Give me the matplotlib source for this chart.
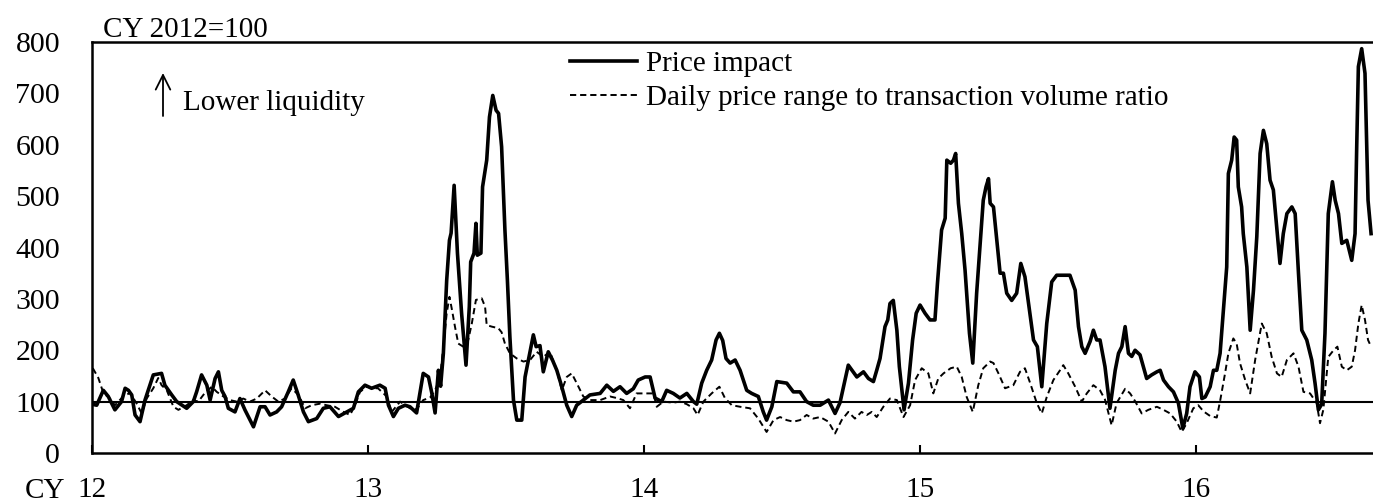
import matplotlib
matplotlib.use("Agg")
import matplotlib.pyplot as plt

plt.rcParams['font.family'] = ['Liberation Serif', 'DejaVu Serif']
plt.rcParams['font.size'] = 21

# ---- data (decimal calendar year, index CY2012=100) ----
impact_t = [
    12.000, 12.017, 12.041, 12.059, 12.083, 12.107, 12.120, 12.132, 12.144, 12.156,
    12.174, 12.192, 12.222, 12.252, 12.264, 12.289, 12.307, 12.343, 12.367, 12.379,
    12.397, 12.416, 12.428, 12.446, 12.458, 12.470, 12.482, 12.494, 12.518, 12.536,
    12.554, 12.585, 12.609, 12.627, 12.645, 12.669, 12.687, 12.711, 12.729, 12.747,
    12.766, 12.784, 12.814, 12.838, 12.862, 12.893, 12.923, 12.947, 12.965, 12.989,
    13.013, 13.043, 13.062, 13.074, 13.092, 13.110, 13.134, 13.152, 13.176, 13.188,
    13.200, 13.219, 13.231, 13.243, 13.255, 13.263, 13.273, 13.285, 13.295, 13.301,
    13.312, 13.324, 13.339, 13.355, 13.367, 13.372, 13.384, 13.391, 13.396, 13.409,
    13.415, 13.430, 13.440, 13.452, 13.464, 13.473, 13.484, 13.496, 13.505, 13.514,
    13.527, 13.539, 13.557, 13.569, 13.581, 13.599, 13.609, 13.623, 13.635, 13.653,
    13.669, 13.684, 13.702, 13.720, 13.738, 13.756, 13.780, 13.804, 13.841, 13.865,
    13.889, 13.913, 13.937, 13.961, 13.979, 14.004, 14.022, 14.040, 14.064, 14.082,
    14.106, 14.130, 14.155, 14.179, 14.191, 14.209, 14.227, 14.245, 14.261, 14.273,
    14.285, 14.297, 14.312, 14.330, 14.348, 14.372, 14.390, 14.414, 14.432, 14.444,
    14.463, 14.481, 14.517, 14.541, 14.565, 14.589, 14.613, 14.638, 14.668, 14.692,
    14.710, 14.728, 14.740, 14.771, 14.795, 14.813, 14.831, 14.843, 14.855, 14.873,
    14.883, 14.891, 14.903, 14.916, 14.925, 14.942, 14.958, 14.973, 14.986, 15.000,
    15.018, 15.036, 15.054, 15.063, 15.078, 15.091, 15.097, 15.111, 15.121, 15.129,
    15.139, 15.151, 15.163, 15.179, 15.191, 15.205, 15.217, 15.229, 15.239, 15.248,
    15.254, 15.266, 15.278, 15.290, 15.302, 15.314, 15.332, 15.350, 15.365, 15.380,
    15.393, 15.411, 15.425, 15.441, 15.459, 15.477, 15.495, 15.519, 15.543, 15.562,
    15.574, 15.586, 15.598, 15.616, 15.628, 15.640, 15.652, 15.670, 15.688, 15.707,
    15.719, 15.731, 15.743, 15.755, 15.767, 15.779, 15.797, 15.809, 15.821, 15.839,
    15.858, 15.870, 15.882, 15.900, 15.918, 15.936, 15.952, 15.966, 15.978, 15.996,
    16.012, 16.021, 16.033, 16.051, 16.063, 16.075, 16.087, 16.099, 16.111, 16.117,
    16.129, 16.138, 16.147, 16.153, 16.165, 16.171, 16.184, 16.196, 16.208, 16.220,
    16.232, 16.244, 16.256, 16.268, 16.280, 16.293, 16.304, 16.316, 16.329, 16.347,
    16.359, 16.371, 16.383, 16.401, 16.419, 16.431, 16.443, 16.455, 16.467, 16.479,
    16.494, 16.504, 16.516, 16.528, 16.546, 16.564, 16.576, 16.582, 16.588, 16.600,
    16.612, 16.623, 16.634,
]
impact_v = [
    95, 93, 122, 110, 84, 100, 126, 122, 113, 74,
    61, 103, 152, 155, 132, 113, 100, 87, 100, 119,
    152, 132, 103, 145, 158, 122, 110, 87, 80, 106,
    84, 51, 90, 90, 74, 80, 90, 119, 142, 113,
    80, 61, 67, 87, 90, 71, 80, 87, 119, 132,
    126, 132, 126, 93, 71, 87, 93, 90, 78, 117,
    155, 148, 117, 78, 161, 130, 194, 336, 414, 428,
    521, 389, 272, 171, 285, 372, 389, 447, 385, 389,
    518, 570, 654, 696, 667, 661, 596, 434, 336, 226,
    103, 64, 64, 148, 181, 230, 207, 209, 158, 197,
    180, 161, 129, 93, 71, 93, 103, 113, 116, 132,
    120, 129, 116, 125, 142, 148, 148, 107, 100, 122,
    116, 107, 116, 100, 95, 136, 161, 181, 220, 233,
    219, 184, 175, 181, 161, 122, 116, 110, 80, 64,
    90, 139, 136, 119, 119, 100, 93, 93, 103, 77,
    98, 142, 171, 148, 158, 145, 139, 161, 184, 246,
    259, 291, 297, 239, 168, 84, 136, 220, 272, 288,
    272, 259, 259, 330, 434, 457, 570, 564, 570, 583,
    486, 427, 356, 233, 175, 311, 401, 492, 518, 534,
    486, 479, 414, 350, 350, 311, 297, 311, 369, 343,
    291, 220, 207, 129, 252, 333, 346, 346, 346, 317,
    246, 207, 194, 217, 239, 220, 220, 168, 87, 161,
    194, 207, 246, 194, 188, 200, 191, 168, 145, 152,
    158, 161, 142, 129, 119, 97, 48, 77, 129, 158,
    148, 106, 109, 129, 161, 161, 194, 278, 362, 544,
    570, 615, 609, 518, 479, 427, 362, 239, 317, 421,
    583, 628, 602, 531, 512, 434, 369, 427, 466, 479,
    466, 350, 239, 220, 181, 136, 84, 95, 233, 466,
    528, 492, 466, 408, 414, 375, 427, 596, 752, 787,
    739, 492, 427,
]

ratio_t = [
    12.003, 12.023, 12.041, 12.065, 12.083, 12.113, 12.138, 12.162, 12.180, 12.198,
    12.222, 12.240, 12.252, 12.271, 12.295, 12.313, 12.343, 12.367, 12.385, 12.409,
    12.434, 12.452, 12.476, 12.500, 12.524, 12.548, 12.572, 12.597, 12.627, 12.651,
    12.675, 12.699, 12.723, 12.748, 12.772, 12.796, 12.826, 12.850, 12.880, 12.911,
    12.935, 12.953, 12.971, 12.995, 13.019, 13.036, 13.068, 13.086, 13.116, 13.152,
    13.176, 13.200, 13.225, 13.243, 13.261, 13.273, 13.285, 13.295, 13.303, 13.315,
    13.327, 13.345, 13.363, 13.376, 13.391, 13.412, 13.424, 13.430, 13.448, 13.472,
    13.484, 13.496, 13.514, 13.539, 13.563, 13.587, 13.611, 13.635, 13.659, 13.684,
    13.702, 13.720, 13.738, 13.756, 13.780, 13.804, 13.841, 13.877, 13.901, 13.925,
    13.949, 13.973, 13.997, 14.034, 14.046, 14.070, 14.106, 14.130, 14.155, 14.179,
    14.194, 14.215, 14.245, 14.273, 14.293, 14.318, 14.348, 14.384, 14.414, 14.444,
    14.469, 14.493, 14.517, 14.541, 14.565, 14.589, 14.613, 14.638, 14.668, 14.692,
    14.716, 14.740, 14.764, 14.788, 14.807, 14.825, 14.843, 14.867, 14.891, 14.916,
    14.940, 14.964, 14.982, 15.006, 15.030, 15.048, 15.066, 15.085, 15.111, 15.133,
    15.151, 15.169, 15.191, 15.211, 15.229, 15.254, 15.266, 15.284, 15.308, 15.338,
    15.362, 15.380, 15.399, 15.423, 15.441, 15.459, 15.483, 15.507, 15.519, 15.537,
    15.562, 15.586, 15.604, 15.628, 15.652, 15.670, 15.694, 15.712, 15.743, 15.761,
    15.779, 15.803, 15.827, 15.858, 15.882, 15.906, 15.930, 15.948, 15.966, 15.990,
    16.008, 16.027, 16.051, 16.075, 16.087, 16.105, 16.117, 16.135, 16.147, 16.159,
    16.178, 16.196, 16.214, 16.238, 16.256, 16.274, 16.293, 16.310, 16.329, 16.353,
    16.371, 16.389, 16.413, 16.437, 16.449, 16.461, 16.479, 16.498, 16.512, 16.528,
    16.546, 16.564, 16.576, 16.588, 16.600, 16.612, 16.623, 16.634,
]
ratio_v = [
    165, 146, 117, 106, 93, 110, 117, 96, 77, 106,
    126, 146, 132, 122, 90, 84, 93, 103, 100, 117,
    129, 119, 110, 103, 100, 106, 100, 106, 122, 110,
    100, 106, 126, 113, 87, 93, 96, 93, 90, 80,
    74, 93, 119, 129, 126, 126, 110, 80, 100, 87,
    85, 103, 108, 122, 148, 207, 272, 304, 282, 246,
    213, 207, 220, 252, 298, 301, 285, 249, 246, 243,
    235, 213, 194, 184, 178, 181, 197, 187, 197, 161,
    122, 148, 155, 136, 110, 103, 103, 110, 107, 103,
    87, 116, 116, 116, 90, 100, 98, 100, 95, 87,
    74, 100, 116, 129, 107, 93, 90, 87, 67, 41,
    64, 70, 64, 61, 64, 74, 67, 70, 61, 38,
    64, 80, 67, 80, 74, 80, 70, 90, 106, 103,
    70, 93, 142, 165, 155, 116, 145, 155, 165, 168,
    148, 109, 80, 132, 165, 178, 175, 155, 126, 132,
    158, 165, 136, 97, 77, 109, 142, 161, 171, 155,
    129, 100, 116, 132, 122, 104, 54, 97, 125, 116,
    101, 77, 84, 90, 84, 77, 61, 41, 58, 87,
    93, 81, 72, 69, 101, 155, 194, 223, 213, 175,
    142, 116, 181, 252, 233, 187, 155, 148, 181, 194,
    168, 119, 116, 97, 58, 84, 187, 200, 207, 168,
    161, 168, 200, 252, 288, 259, 220, 207,
]

year_ticks = [12, 13, 14, 15, 16]
year_labels = ["12", "13", "14", "15", "16"]
y_ticks = [0, 100, 200, 300, 400, 500, 600, 700, 800]
y_marked = [0, 100, 800]
series_labels = ["Price impact", "Daily price range to transaction volume ratio"]

W, H = 1373, 503
fig = plt.figure(figsize=(W / 100, H / 100), dpi=100)
ax = fig.add_axes([92 / W, 50 / H, 1281 / W, 411 / H])

ax.axhline(100, color="black", lw=1.5, zorder=1)
l1, = ax.plot(impact_t, impact_v, color="black", lw=2.6, solid_joinstyle="round", zorder=3)
l2, = ax.plot(ratio_t, ratio_v, color="black", lw=1.4, ls=(0, (3.2, 2.0)), zorder=2)

ax.set_xlim(12, 16.641)
ax.set_ylim(0, 800)
ax.set_xticks(year_ticks)
ax.set_xticklabels(year_labels)
ax.set_yticks(y_ticks)
ax.set_yticks(y_marked, minor=True)
ax.tick_params(axis="x", which="major", direction="in", length=6, width=1.5, pad=17,
               labelsize=21)
ax.tick_params(axis="y", which="major", length=0, pad=23, labelsize=21.5)
ax.tick_params(axis="y", which="minor", direction="out", length=6.5, width=1.5)

for s in ["left", "bottom", "top"]:
    ax.spines[s].set_linewidth(1.8)
ax.spines["right"].set_visible(False)

leg = ax.legend([l1, l2], series_labels, loc="upper left",
                bbox_to_anchor=(570 / W, (H - 51) / H), bbox_transform=fig.transFigure,
                frameon=False, handlelength=2.3, handletextpad=0.3,
                labelspacing=0.25, borderpad=0, borderaxespad=0, fontsize=21)

fig.text(103 / W, (H - 37) / H, "CY 2012=100", fontsize=21, va="baseline", ha="left")
fig.text(25 / W, 5 / H, "CY", fontsize=21, va="baseline", ha="left")
fig.text(183 / W, (H - 110) / H, "Lower liquidity", fontsize=21, va="baseline", ha="left")
ax.annotate("", xy=(163, H - 73), xytext=(163, H - 116), xycoords="figure pixels",
            textcoords="figure pixels",
            arrowprops=dict(arrowstyle="->,head_length=0.5,head_width=0.25", lw=1.3, color="black",
                            shrinkA=0, shrinkB=0))

fig.savefig("out.png", dpi=100)
